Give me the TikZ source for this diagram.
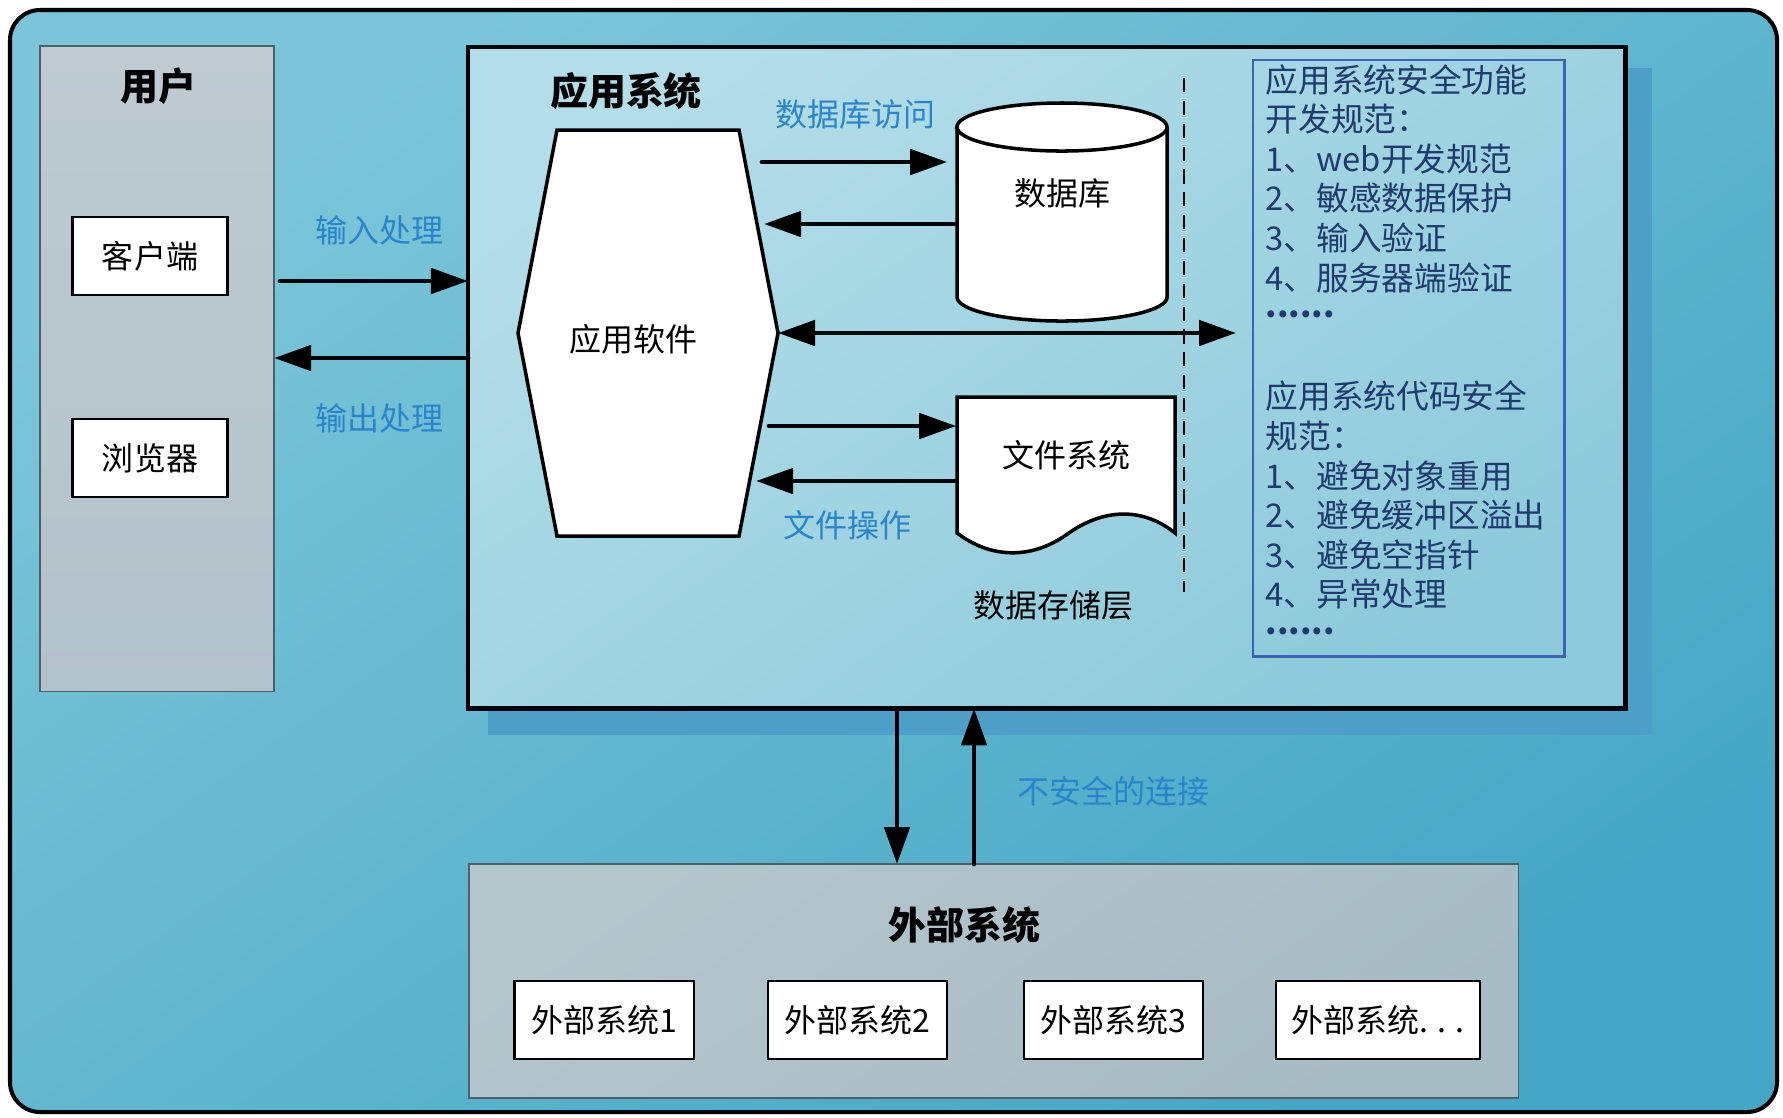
\documentclass[tikz,border=0pt]{standalone}
\usepackage{fontspec}
\setmainfont{Noto Sans CJK SC}
\usetikzlibrary{arrows.meta}

\definecolor{bgtop}{HTML}{7CC5D8}
\definecolor{bgbot}{HTML}{45A7C5}
\definecolor{apptop}{HTML}{B3DDE8}
\definecolor{appbot}{HTML}{8DCADB}
\definecolor{usertop}{HTML}{BFCAD1}
\definecolor{userbot}{HTML}{B2C2CA}
\definecolor{exttop}{HTML}{B4C5CC}
\definecolor{extbot}{HTML}{A7BBC4}
\definecolor{shadowc}{HTML}{4E9FC7}
\definecolor{noteblue}{HTML}{2A84CC}
\definecolor{specline}{HTML}{3B63B4}
\definecolor{spectext}{HTML}{1E3A6E}
\definecolor{panelline}{HTML}{4F5F6A}
\newcommand{\dotline}{\raisebox{0.36em}{\bfseries......}}

\begin{document}
\begin{tikzpicture}[x=0.01cm, y=-0.01cm,
box/.style = {draw, fill=white, line width=0.6pt, rectangle, minimum height=0.78cm, font=\fontsize{9.1}{11}\selectfont},
panel/.style = {draw=panelline, line width=0.4pt, rectangle, inner sep=0pt, outer sep=0pt, anchor=north west},
head/.style = {font=\fontsize{10.8}{13}\selectfont\bfseries},
txt/.style = {font=\fontsize{9.1}{11}\selectfont},
note/.style = {txt, text=noteblue},
shape line/.style = {draw, fill=white, line width=1pt},
arr/.style = {->, line width=1.4pt, line cap=round},
node distance = 2cm,
>={Triangle[length=0.37cm,width=0.25cm]}
]

\useasboundingbox (0,0) rectangle (1783,1117);

% background
\shade[draw, line width=1.15pt, rounded corners=0.3cm, top color=bgtop, bottom color=bgbot, shading angle=35] (10,10) rectangle (1777,1112);

% user side
\node[panel, top color=usertop, bottom color=userbot, minimum width=2.34cm, minimum height=6.45cm] (user) at (40,46) {};
\node[head] (usertitle) at (158,86) {用户};
\node[box, minimum width=1.55cm] (cli) at (150,256) {客户端};
\node[box, minimum width=1.55cm, below of=cli, node distance=2.02cm] (brw) {浏览器};

% application system
\fill[shadowc] (488,68) rectangle (1652,735);
\node[panel, draw=black, line width=1.4pt, top color=apptop, bottom color=appbot, shading angle=35, minimum width=11.57cm, minimum height=6.61cm] (app) at (468,47) {};
\node[head] (apptitle) at (626,91) {应用系统};

\draw[shape line] (557,130) -- (739,130) -- (778,333) coordinate (hr) -- (739,536) -- (557,536) -- (518,333) -- cycle;
\node[txt] (soft) at (633,339) {应用软件};

% data storage
\draw[shape line] (957,127) -- (957,297) arc[start angle=180, end angle=360, x radius=1.05cm, y radius=0.24cm] -- (1167,127) arc[start angle=0, end angle=180, x radius=1.05cm, y radius=0.24cm] -- cycle;
\draw[shape line, fill=none] (957,127) arc[start angle=180, end angle=360, x radius=1.05cm, y radius=0.24cm];
\node[txt, minimum width=2.1cm] (db) at (1062,193) {数据库};

\draw[shape line] (957,397) -- (1175,397) -- (1175,533) .. controls (1140,505) and (1100,510) .. (1066,535) .. controls (1030,560) and (990,558) .. (957,533) -- cycle;
\node[txt, minimum width=2.18cm] (fs) at (1066,455) {文件系统};

\node[txt] (store) at (1053,605) {数据存储层};
\draw[line width=0.7pt, dash pattern=on 4pt off 2.5pt] (1184,78) -- (1184,592);

% security rules
\node[panel, draw=specline, line width=0.8pt, minimum width=3.11cm, minimum height=5.96cm] (spec) at (1253,60) {};
\foreach \i/\t in {0/应用系统安全功能, 1/开发规范：, 2/1、web开发规范, 3/2、敏感数据保护, 4/3、输入验证, 5/4、服务器端验证, 6/\dotline,
                   8/应用系统代码安全, 9/规范：, 10/1、避免对象重用, 11/2、避免缓冲区溢出, 12/3、避免空指针, 13/4、异常处理, 14/\dotline}
  \node[text=spectext, anchor=base west, inner sep=0pt, font=\fontsize{9.3}{11}\selectfont] (s\i) at (1265, 92+39.6*\i) {\t};

% user <-> application
\coordinate (ui) at (280,281);
\coordinate (uo) at (370,358);
\draw[arr] (ui) -- (ui -| app.west);
\draw[arr] (uo -| app.west) -- (uo -| user.east);
\node[note] (lin) at (379,230) {输入处理};
\node[note] (lout) at (379,418) {输出处理};

% software <-> storage
\coordinate (a1) at (762,162);
\coordinate (a2) at (764,224);
\coordinate (a3) at (769,426);
\coordinate (a4) at (756,481);
\coordinate (sp) at (1236,333);
\draw[arr] (a1) -- ([xshift=-0.09cm]a1 -| db.west);
\draw[arr] (a2 -| db.west) -- (a2);
\draw[arr, <->] (hr) -- (sp);
\draw[arr] (a3) -- (a3 -| fs.west);
\draw[arr] (a4 -| fs.west) -- (a4);
\node[note] (ldb) at (855,114) {数据库访问};
\node[note] (lfs) at (847,525) {文件操作};

% external systems
\node[panel, top color=exttop, bottom color=extbot, shading angle=35, minimum width=10.49cm, minimum height=2.34cm] (ext) at (469,864) {};
\node[head] (exttitle) at (964,925) {外部系统};
\node[box, minimum width=1.79cm] (ext1) at (604,1020) {外部系统1};
\node[box, minimum width=1.79cm, right of=ext1, node distance=2.53cm] (ext2) {外部系统2};
\node[box, minimum width=1.79cm, right of=ext2, node distance=2.56cm] (ext3) {外部系统3};
\node[box, minimum width=2.04cm, right of=ext3, node distance=2.645cm] (ext4) {外部系统. . .};

\coordinate (vd) at (897,786);
\coordinate (vu) at (974,786);
\draw[arr] (vd |- app.south) -- (vd |- ext.north);
\draw[arr] (vu |- ext.north) -- (vu |- app.south);
\node[note] (lext) at (1113,791) {不安全的连接};

\end{tikzpicture}
\end{document}
